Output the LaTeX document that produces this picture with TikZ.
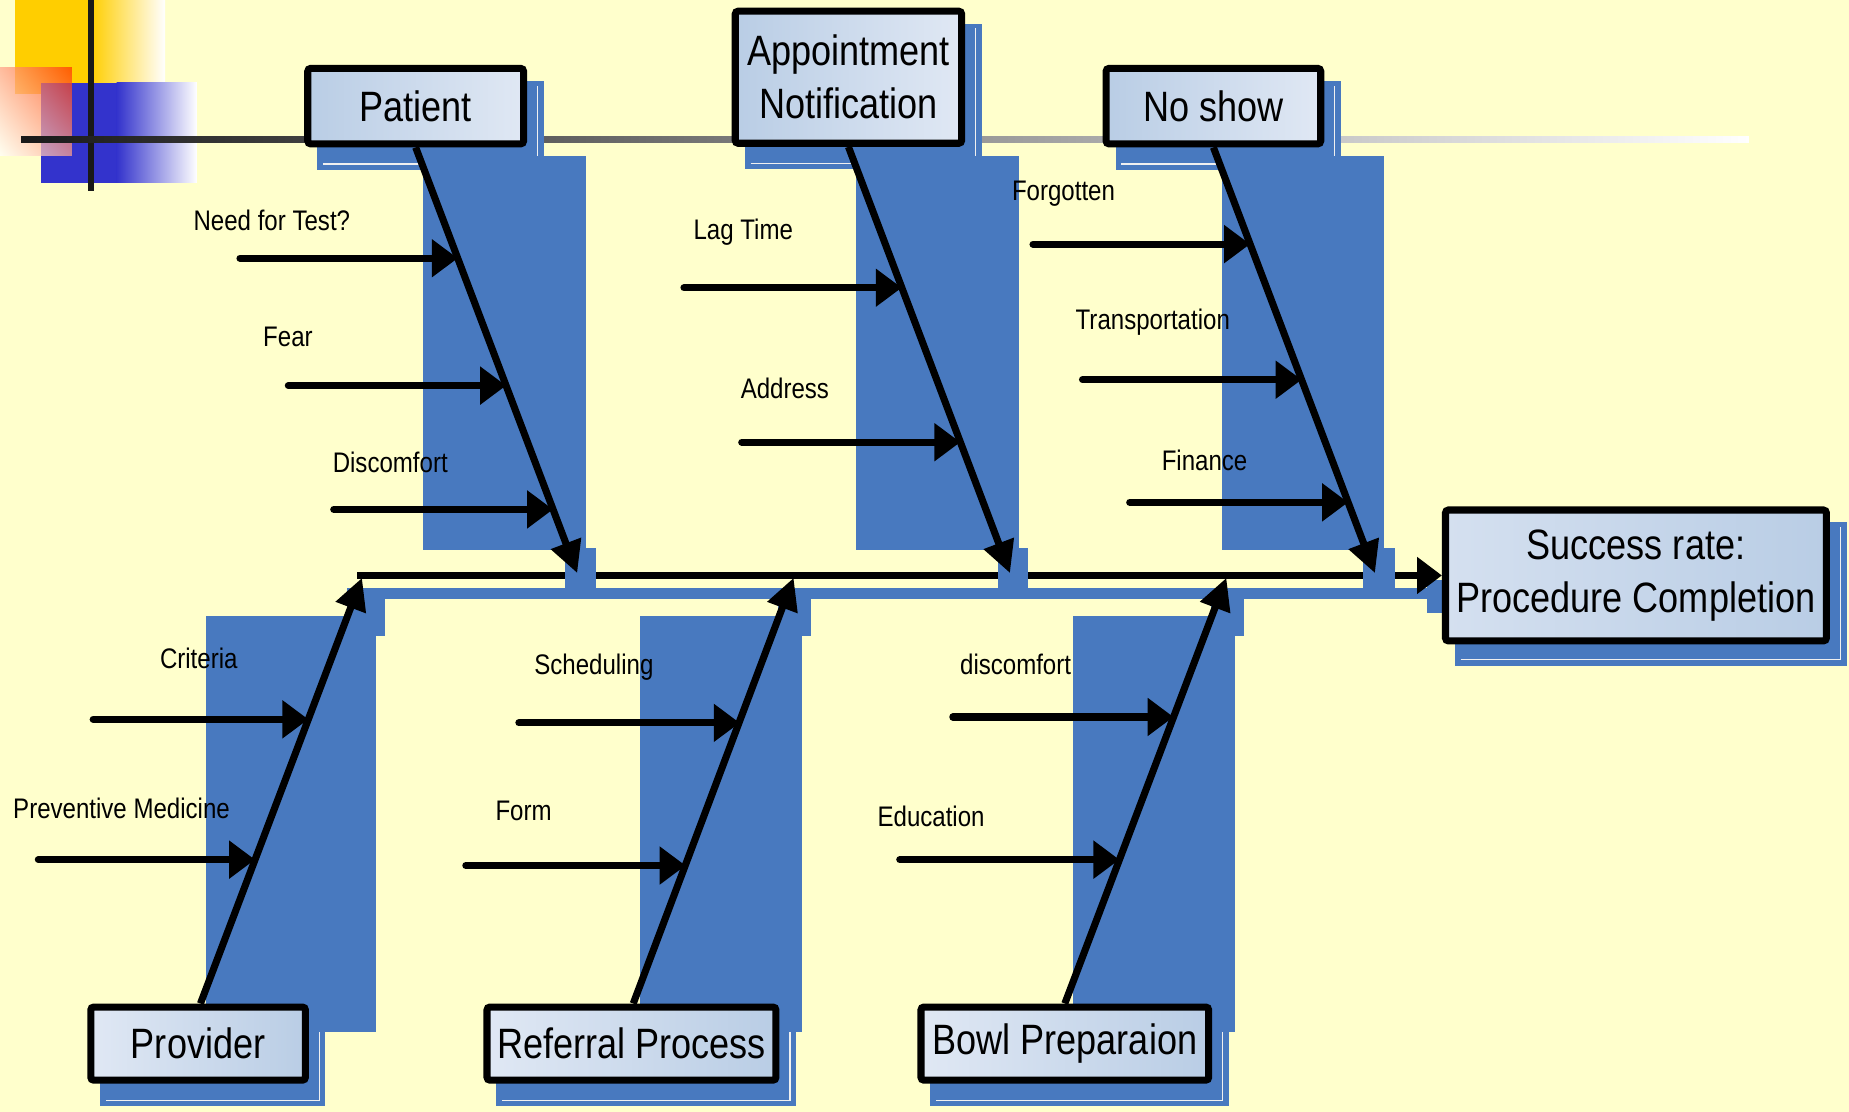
\documentclass[tikz,border=0pt]{standalone}
\usepackage{fontspec}
\setmainfont{Liberation Sans}[FakeStretch=0.85]
\usetikzlibrary{arrows.meta,calc,shadings}
\definecolor{bg}{RGB}{255,255,204}
\definecolor{shadowblue}{RGB}{72,121,191}
\definecolor{boxdark}{RGB}{185,205,229}
\definecolor{boxlight}{RGB}{224,232,244}
\definecolor{decoyellow}{RGB}{255,206,0}
\definecolor{decoblue}{RGB}{51,51,204}
\definecolor{decored}{RGB}{255,51,0}
\pgfdeclarelayer{backlayer}
\pgfdeclarelayer{spinelayer}
\pgfdeclarelayer{shadowlayer}
\pgfsetlayers{backlayer,spinelayer,shadowlayer,main}
\newcommand\boxshade[4]{%
  \fill[shadowblue] (#1+11,#2+14) rectangle (#3+14,#4+19);
  \draw[white!88!gray, line width=1pt] (#1+16,#4+14) -- (#3+9,#4+14) -- (#3+9,#2+18);
}
\begin{document}
\begin{tikzpicture}[x=1pt,y=-1pt,
  box/.style={draw=black, line width=6pt, rounded corners=2.5pt, inner sep=0pt,
    align=center, font=\fontsize{36}{45}\selectfont},
  topbox/.style={box, left color=boxdark, right color=boxlight},
  botbox/.style={box, left color=boxlight, right color=boxdark},
  lbl/.style={inner sep=0pt, anchor=base west, font=\fontsize{24}{28}\selectfont},
  sub/.style={line width=6pt, line cap=round, -{Triangle[length=22pt,width=31pt]}},
  diag/.style={line width=6pt, -{Triangle[length=27pt,width=26pt]}},
  spine/.style={line width=6pt, -{Triangle[length=21pt,width=30pt]}},
]
\useasboundingbox (0,0) rectangle (1568,943);
% nodes (main layer, on top)
\node[topbox, minimum width=183pt, minimum height=64pt] (patient) at (352.5,90) {Patient};
\node[topbox, minimum width=192pt, minimum height=112pt] (appt) at (719.5,65.5) {Appointment\\Notification};
\node[topbox, minimum width=182pt, minimum height=64pt] (noshow) at (1029,90) {No show};
\node[box, left color=boxlight!70!boxdark, right color=boxdark, minimum width=323pt, minimum height=111pt] (success) at (1387.3,488) {Success rate:\\Procedure Completion};
\node[botbox, minimum width=182pt, minimum height=62pt] (provider) at (168,885) {Provider};
\node[botbox, minimum width=245pt, minimum height=62pt] (referral) at (535.5,885) {Referral Process};
\node[botbox, minimum width=244pt, minimum height=62pt] (bowl) at (903,885) {Bowl Preparaion};

\begin{pgfonlayer}{backlayer}
% background
\fill[bg] (0,0) rectangle (1568,943);
% corner decoration
\fill[decoyellow] (13,0) rectangle (78,80);
\shade[left color=decoyellow, right color=white] (77,0) rectangle (140,80);
\fill[decoblue] (35,70) rectangle (100,155);
\shade[left color=decoblue, right color=white] (99,70) rectangle (167,155);
\shade[upper right=decored, upper left=decored!45!white, lower right=decored!45!white,
       lower left=white, opacity=0.72] (0,57) rectangle (61,132);
\draw[black!90, line width=5pt] (77,0) -- (77,162);
\shade[left color=black!90, right color=white] (18,115.5) rectangle (1483,120.5);
% box shadows
\boxshade{258}{55}{447}{125}
\boxshade{620.5}{6}{818.5}{124.5}
\boxshade{935}{55}{1123}{125}
\boxshade{1222.6}{428.5}{1552}{545.5}
\boxshade{74}{851}{262}{919}
\boxshade{410}{851}{661}{919}
\boxshade{778}{851}{1028}{919}
% spine shadow band
\fill[shadowblue] (310,499) rectangle (1212,508);
\fill[shadowblue] (1210,492) rectangle (1226,520);
\end{pgfonlayer}

\begin{pgfonlayer}{spinelayer}
\coordinate (spinestart) at (303,488);
\draw[spine] (spinestart) -- (success.west);
\end{pgfonlayer}

\begin{pgfonlayer}{shadowlayer}
\fill[shadowblue] (359,132) rectangle (497,466);
\fill[shadowblue] (479,465) rectangle (505,508);
\fill[shadowblue] (726,132) rectangle (864,466);
\fill[shadowblue] (846,465) rectangle (872,508);
\fill[shadowblue] (1036,132) rectangle (1174,466);
\fill[shadowblue] (1156,465) rectangle (1183,508);
\fill[shadowblue] (175,522) rectangle (319,875);
\fill[shadowblue] (294,499) rectangle (326.5,539);
\fill[shadowblue] (543,522) rectangle (680,875);
\fill[shadowblue] (660,499) rectangle (688,539);
\fill[shadowblue] (910,522) rectangle (1047,875);
\fill[shadowblue] (1027,499) rectangle (1055,539);

% diagonal bones
\coordinate (tipP) at (489.5,486);
\coordinate (tipA) at (856.5,486);
\coordinate (tipN) at (1166,486);
\coordinate (tipV) at (307,490);
\coordinate (tipR) at (673,490);
\coordinate (tipB) at (1040,490);
\draw[diag] (patient.south) -- (tipP);
\draw[diag] (appt.south) -- (tipA);
\draw[diag] (noshow.south) -- (tipN);
\draw[diag] ($(provider.north)+(2,0)$) -- (tipV);
\draw[diag] ($(referral.north)+(1.5,0)$) -- (tipR);
\draw[diag] (bowl.north) -- (tipB);

% sub causes
\coordinate (s1) at (203.5,219); \coordinate (e1) at (388.2,219);
\coordinate (s2) at (244.5,327); \coordinate (e2) at (429.2,327);
\coordinate (s3) at (283,432);   \coordinate (e3) at (469,432);
\coordinate (s4) at (580,244);   \coordinate (e4) at (764.7,244);
\coordinate (s5) at (629,375);   \coordinate (e5) at (814.4,375);
\coordinate (s6) at (876,207);   \coordinate (e6) at (1060.1,207);
\coordinate (s7) at (918,322);   \coordinate (e7) at (1103.8,322);
\coordinate (s8) at (958,426);   \coordinate (e8) at (1143.2,426);
\coordinate (s9) at (79,610);    \coordinate (e9) at (261.5,610);
\coordinate (s10) at (32.5,729); \coordinate (e10) at (216.3,729);
\coordinate (s11) at (440,613);  \coordinate (e11) at (627.3,613);
\coordinate (s12) at (395,734);  \coordinate (e12) at (581.4,734);
\coordinate (s13) at (808,608);  \coordinate (e13) at (995.2,608);
\coordinate (s14) at (763,729);  \coordinate (e14) at (949.3,729);
\foreach \i in {1,...,14} {\draw[sub] (s\i) -- (e\i);}

% labels
\node[lbl] (l1) at (164,195.5) {Need for Test?};
\node[lbl] (l2) at (223,294) {Fear};
\node[lbl] (l3) at (282,401) {Discomfort};
\node[lbl] (l4) at (588,203) {Lag Time};
\node[lbl] (l5) at (628,338) {Address};
\node[lbl] (l6) at (858,170) {Forgotten};
\node[lbl] (l7) at (912,279) {Transportation};
\node[lbl] (l8) at (985,399) {Finance};
\node[lbl] (l9) at (135.5,567) {Criteria};
\node[lbl] (l10) at (11,694) {Preventive Medicine};
\node[lbl] (l11) at (453,572) {Scheduling};
\node[lbl] (l12) at (420,696) {Form};
\node[lbl] (l13) at (814,572) {discomfort};
\node[lbl] (l14) at (744,701) {Education};
\end{pgfonlayer}
\end{tikzpicture}
\end{document}
